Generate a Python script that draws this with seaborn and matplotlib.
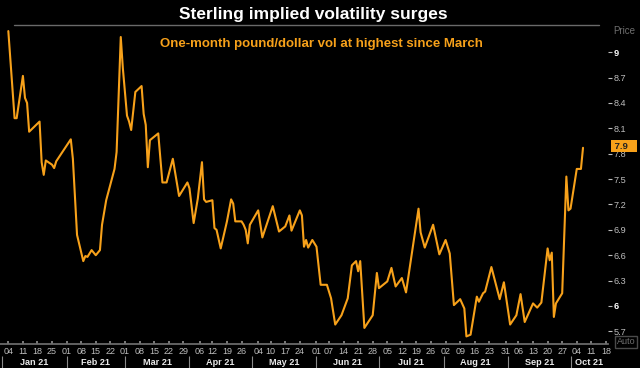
import matplotlib
matplotlib.use("Agg")
import matplotlib.pyplot as plt
from matplotlib.lines import Line2D
import pandas as pd
import seaborn as sns

# one-month GBP/USD implied vol
dates = [
    "2021-01-04", "2021-01-07", "2021-01-08", "2021-01-11", "2021-01-12", "2021-01-13", "2021-01-14",
    "2021-01-19", "2021-01-20", "2021-01-21", "2021-01-22", "2021-01-25", "2021-01-26", "2021-01-27",
    "2021-02-03", "2021-02-04", "2021-02-06", "2021-02-09", "2021-02-10", "2021-02-11", "2021-02-13",
    "2021-02-15", "2021-02-17", "2021-02-18", "2021-02-20", "2021-02-24", "2021-02-25", "2021-02-27",
    "2021-02-28", "2021-03-02", "2021-03-03", "2021-03-04", "2021-03-06", "2021-03-09", "2021-03-10",
    "2021-03-11", "2021-03-12", "2021-03-13", "2021-03-17", "2021-03-19", "2021-03-21", "2021-03-24",
    "2021-03-27", "2021-03-31", "2021-04-01", "2021-04-03", "2021-04-05", "2021-04-07", "2021-04-08",
    "2021-04-09", "2021-04-12", "2021-04-13", "2021-04-14", "2021-04-16", "2021-04-19", "2021-04-21",
    "2021-04-22", "2021-04-23", "2021-04-26", "2021-04-27", "2021-04-28", "2021-04-29", "2021-04-30",
    "2021-05-04", "2021-05-06", "2021-05-11", "2021-05-14", "2021-05-17", "2021-05-19", "2021-05-20",
    "2021-05-24", "2021-05-25", "2021-05-26", "2021-05-27", "2021-05-28", "2021-05-30", "2021-06-01",
    "2021-06-03", "2021-06-06", "2021-06-08", "2021-06-10", "2021-06-13", "2021-06-16", "2021-06-18",
    "2021-06-20", "2021-06-21", "2021-06-22", "2021-06-24", "2021-06-28", "2021-06-30", "2021-07-01",
    "2021-07-05", "2021-07-07", "2021-07-09", "2021-07-12", "2021-07-14", "2021-07-20", "2021-07-21",
    "2021-07-23", "2021-07-27", "2021-07-30", "2021-08-02", "2021-08-04", "2021-08-06", "2021-08-09",
    "2021-08-11", "2021-08-12", "2021-08-14", "2021-08-17", "2021-08-18", "2021-08-20", "2021-08-21",
    "2021-08-24", "2021-08-28", "2021-08-30", "2021-09-02", "2021-09-05", "2021-09-07", "2021-09-09",
    "2021-09-13", "2021-09-15", "2021-09-17", "2021-09-20", "2021-09-21", "2021-09-22", "2021-09-23",
    "2021-09-24", "2021-09-27", "2021-09-29", "2021-09-30", "2021-10-01", "2021-10-04", "2021-10-06",
    "2021-10-07",
]
vol = [
    9.25, 8.22, 8.22, 8.72, 8.46, 8.40, 8.06,
    8.18, 7.70, 7.55, 7.72, 7.67, 7.63, 7.71,
    7.97, 7.74, 6.84, 6.53, 6.59, 6.58, 6.66,
    6.60, 6.66, 6.96, 7.25, 7.62, 7.82, 9.18,
    8.81, 8.25, 8.18, 8.08, 8.53, 8.60, 8.27,
    8.14, 7.64, 7.96, 8.04, 7.46, 7.46, 7.74,
    7.30, 7.46, 7.39, 6.98, 7.27, 7.70, 7.26,
    7.23, 7.25, 6.92, 6.90, 6.68, 7.00, 7.26,
    7.21, 7.00, 7.00, 6.96, 6.90, 6.74, 6.96,
    7.13, 6.81, 7.18, 6.88, 6.94, 7.07, 6.89,
    7.13, 7.07, 6.70, 6.78, 6.69, 6.78, 6.70,
    6.25, 6.25, 6.09, 5.78, 5.89, 6.09, 6.48,
    6.53, 6.41, 6.53, 5.74, 5.89, 6.39, 6.21,
    6.29, 6.45, 6.23, 6.33, 6.16, 7.15, 6.87,
    6.69, 6.96, 6.61, 6.78, 6.62, 6.01, 6.08,
    5.97, 5.64, 5.66, 6.11, 6.05, 6.15, 6.17,
    6.46, 6.08, 6.28, 5.78, 5.89, 6.14, 5.81,
    6.03, 5.98, 6.04, 6.68, 6.54, 6.63, 5.87,
    6.03, 6.15, 7.53, 7.13, 7.15, 7.62, 7.62,
    7.87,
]

tick_dates = [
    "2021-01-04", "2021-01-11", "2021-01-18", "2021-01-25", "2021-02-01", "2021-02-08", "2021-02-15",
    "2021-02-22", "2021-03-01", "2021-03-08", "2021-03-15", "2021-03-22", "2021-03-29", "2021-04-06",
    "2021-04-12", "2021-04-19", "2021-04-26", "2021-05-04", "2021-05-10", "2021-05-17", "2021-05-24",
    "2021-06-01", "2021-06-07", "2021-06-14", "2021-06-21", "2021-06-28", "2021-07-05", "2021-07-12",
    "2021-07-19", "2021-07-26", "2021-08-02", "2021-08-09", "2021-08-16", "2021-08-23", "2021-08-31",
    "2021-09-06", "2021-09-13", "2021-09-20", "2021-09-27", "2021-10-04", "2021-10-11", "2021-10-18",
]
month_starts = ["2021-01-01", "2021-02-01", "2021-03-01", "2021-04-01", "2021-05-01",
                "2021-06-01", "2021-07-01", "2021-08-01", "2021-09-01", "2021-10-01"]
month_labels = ["Jan 21", "Feb 21", "Mar 21", "Apr 21", "May 21",
                "Jun 21", "Jul 21", "Aug 21", "Sep 21", "Oct 21"]
y_ticks = [5.7, 6.0, 6.3, 6.6, 6.9, 7.2, 7.5, 7.8, 8.1, 8.4, 8.7, 9.0]
y_labels = ["5.7", "6", "6.3", "6.6", "6.9", "7.2", "7.5", "7.8", "8.1", "8.4", "8.7", "9"]

ORANGE = "#F7A11A"
GREY = "#BDBDBD"

sns.set_theme(style="dark", rc={
    "axes.facecolor": "black",
    "figure.facecolor": "black",
    "axes.edgecolor": "#6E6E6E",
})
plt.rcParams["font.family"] = ["Liberation Sans", "DejaVu Sans"]

df = pd.DataFrame({"date": pd.to_datetime(dates), "vol": vol})
x0, x1 = pd.Timestamp("2020-12-31"), pd.Timestamp("2021-10-19")

fig = plt.figure(figsize=(6.4, 3.68), dpi=100)
ax = fig.add_axes([0, 24 / 368, 608 / 640, 318 / 368])
sns.lineplot(data=df, x="date", y="vol", color=ORANGE, linewidth=1.5, ax=ax)
ax.set_xlim(x0, x1)
ax.set_ylim(5.55, 9.31)
ax.set_xlabel("")
ax.set_ylabel("")
ax.grid(False)
for side in ["top", "left", "right"]:
    ax.spines[side].set_visible(False)
ax.spines["bottom"].set_color("#6E6E6E")

# right price axis
ax.yaxis.tick_right()
ax.set_yticks(y_ticks)
ax.set_yticklabels(y_labels)
ax.tick_params(axis="y", which="both", right=True, length=3, width=0.8, color=GREY,
               labelcolor=GREY, labelsize=6.6, pad=1)
for lab in ax.get_yticklabels():
    if "." not in lab.get_text():
        lab.set_fontweight("bold")
        lab.set_color("white")

# date axis
ax.set_xticks(pd.to_datetime(tick_dates))
ax.set_xticklabels([d[-2:] for d in tick_dates])
ax.tick_params(axis="x", bottom=True, direction="in", length=2, color="#8A8A8A",
               labelcolor=GREY, labelsize=6.5, pad=2.5)

trans = ax.get_xaxis_transform()
starts = pd.to_datetime(month_starts)
ends = list(starts[1:]) + [x1]
for start, end, label in zip(starts, ends, month_labels):
    lo, hi = max(start, x0), min(end, x1)
    ax.text(lo + (hi - lo) / 2, -0.057, label, transform=trans, ha="center", va="center",
            fontsize=6.6, fontweight="bold", color="#E8E8E8", clip_on=False)
ax.vlines(starts, -0.037, -0.075, transform=trans, color="#8A8A8A", linewidth=0.8, clip_on=False)

# last value tag
ax.text(1.006, vol[-1] + 0.02, " 7.9   ", transform=ax.get_yaxis_transform(), ha="left",
        va="center", fontsize=6.8, fontweight="bold", color="#222222", zorder=6, clip_on=False,
        bbox=dict(boxstyle="square,pad=0.12", facecolor=ORANGE, edgecolor="none"))

# headings
fig.text(0.49, 1 - 14 / 368, "Sterling implied volatility surges", ha="center", va="center",
         fontsize=12.5, fontweight="bold", color="white")
fig.add_artist(Line2D([14 / 640, 599 / 640], [1 - 25 / 368, 1 - 25 / 368],
                      color="#6A6A6A", linewidth=1))
fig.text(0.502, 1 - 44 / 368, "One-month pound/dollar vol at highest since March", ha="center",
         va="center", fontsize=9.5, fontweight="bold", color=ORANGE)
fig.text(624 / 640, 1 - 31 / 368, "Price", ha="center", va="center", fontsize=7, color="#6E6E6E")
fig.text(626 / 640, 1 - 342 / 368, "Auto", ha="center", va="center", fontsize=6.5, color="#6E6E6E",
         bbox=dict(boxstyle="square,pad=0.15", facecolor="black", edgecolor="#4A4A4A"))

fig.savefig("out.png", dpi=100, facecolor="black")
